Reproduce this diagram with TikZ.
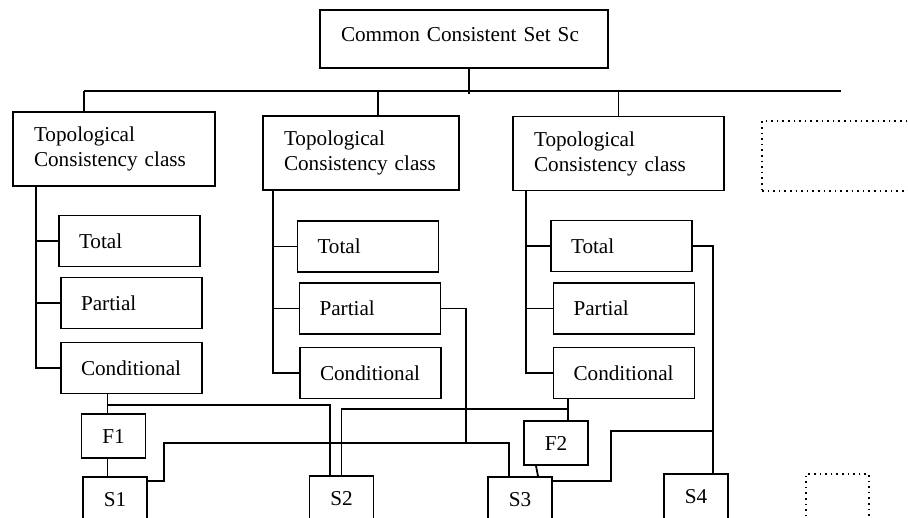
\documentclass[tikz,border=0pt]{standalone}
\usepackage{fontspec}
\setmainfont{Liberation Serif}
\usetikzlibrary{positioning}

\begin{document}
\begin{tikzpicture}[
  x=0.5pt, y=-0.5pt,
  box/.style={draw, line width=0.9pt, inner sep=0pt,
              font=\fontsize{10.6}{12.5}\selectfont},
  cls/.style={box, minimum height=37pt, text width=80pt, inner xsep=10.5pt, align=left},
  sub/.style={box, minimum height=25.5pt, text width=50.5pt, inner xsep=10pt, align=left},
  fbox/.style={box, minimum width=32pt, minimum height=22pt, align=center},
  sbox/.style={box, minimum width=32pt, minimum height=23pt, align=center},
  free/.style={draw, dotted, line width=0.8pt, inner sep=0pt},
  link/.style={line width=0.9pt}
]
  \useasboundingbox (0,0) rectangle (908,518);
  \clip (0,0) rectangle (908,518);

  % root and classes
  \node[box, text width=123pt, inner xsep=10.5pt, minimum height=29pt,
        text depth=5pt, align=left] (top) at (464,39) {Common Consistent Set Sc};
  \node[cls] (cls1) at (114,149) {Topological\\Consistency class};
  \node[cls, text width=77pt] (cls2) at (361,153) {Topological\\Consistency class};
  \node[cls, text width=84.5pt] (cls3) at (618.5,153.5) {Topological\\Consistency class};
  \node[free, minimum width=100pt, minimum height=35pt] (more) at (862,156) {};

  % sub classes
  \node[sub] (tot1) at (129.5,241) {Total};
  \node[sub] (par1) at (131.5,303) {Partial};
  \node[sub] (con1) at (131.5,368) {Conditional};
  \node[sub] (tot2) at (368,246.5) {Total};
  \node[sub] (par2) at (370,308.5) {Partial};
  \node[sub] (con2) at (370.5,373) {Conditional};
  \node[sub] (tot3) at (621.5,246) {Total};
  \node[sub] (par3) at (624,308.5) {Partial};
  \node[sub] (con3) at (624,373) {Conditional};

  % lower row
  \node[fbox] (F1) at (113.5,436) {F1};
  \node[fbox] (F2) at (556,443) {F2};
  \node[sbox] (S1) at (115,500) {S1};
  \node[sbox] (S2) at (341.5,499) {S2};
  \node[sbox] (S3) at (520,500) {S3};
  \node[sbox] (S4) at (696,497) {S4};
  \node[free, minimum width=31.5pt, minimum height=23pt] (moreS) at (837.5,497) {};

  % bus
  \coordinate (busL) at (84,91);
  \coordinate (busR) at (841,91);
  \coordinate (hub) at (469,94);
  \coordinate (d2) at (378,91);
  \draw[link] (busL) -- (busR);
  \draw[link] (top.south -| hub) -- (hub);
  \draw[link] (busL) -- (busL |- cls1.north);
  \draw[link] (d2) -- (d2 |- cls2.north);
  \draw[link] (cls3.north |- busL) -- (cls3.north);

  \foreach \c/\dx in {1/12pt, 2/5.5pt, 3/7pt} {
    \coordinate (sp\c) at ([xshift=\dx]cls\c.south west);
    \draw[link] (sp\c) |- (con\c.west);
    \draw[link] (tot\c.west) -- (tot\c.west -| sp\c);
    \draw[link] (par\c.west) -- (par\c.west -| sp\c);
  }

  % F and S links
  \coordinate (j1) at (466,443);
  \coordinate (j2) at (713,431);
  \draw[link] ([xshift=-3pt]F1.north |- con1.south) -- ([xshift=-3pt]F1.north);
  \draw[link] ([xshift=-3pt]F1.north) ++(0,4pt) -| ([xshift=-5.75pt]S2.north);
  \draw[link] ([xshift=-3pt]F1.south) -- ([xshift=-3pt]F1.south |- S1.north);
  \draw[link] ([xshift=6pt]F2.north |- con3.south) -- ([xshift=6pt]F2.north);
  \draw[link] ([xshift=6pt]F2.north) ++(0,5.5pt) -| (S2.north);
  \draw[link] ([xshift=-10pt]F2.south) -- ([xshift=9pt]S3.north);
  \draw[link] (par2.east) -| (j1);
  \draw[link] ([yshift=-2.5pt]S1.north east) -- ++(8pt,0) |- (j1) -| ([xshift=-5.5pt]S3.north);
  \draw[link] (tot3.east) -| ([xshift=8.5pt]S4.north);
  \draw[link] ([yshift=-2.5pt]S3.north east) -- ++(29pt,0) |- (j2);
\end{tikzpicture}
\end{document}
